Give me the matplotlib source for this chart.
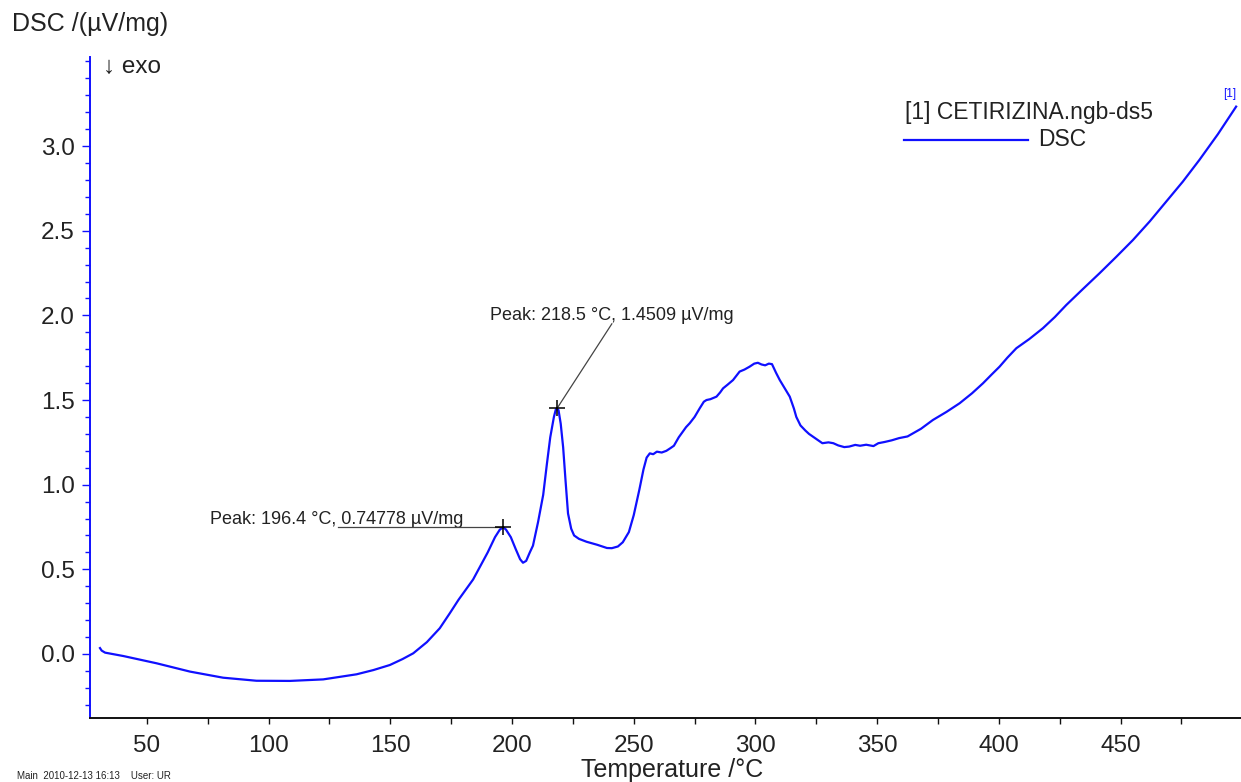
import matplotlib
matplotlib.use("Agg")
import matplotlib.pyplot as plt
from matplotlib.lines import Line2D
from matplotlib.ticker import MultipleLocator

plt.rcParams['font.family'] = ['Liberation Sans', 'DejaVu Sans']

# DSC trace of the cetirizine sample (temperature in °C, signal in µV/mg)
temperature = [
    30.7, 31.4, 32.8, 40.3, 54.0, 67.7, 81.3, 95.0, 108.7, 122.4, 136.1, 143.0,
    149.8, 155.0, 159.4, 165.0, 170.3, 174.4, 178.0, 181.0, 184.0, 187.0, 190.0,
    193.0, 195.0, 196.4, 197.5, 199.5, 201.5, 203.3, 204.5, 205.8, 207.3, 208.6,
    210.7, 212.8, 214.3, 215.7, 217.2, 218.0, 218.5, 219.1, 220.0, 221.0, 222.0,
    223.0, 224.3, 225.5, 227.5, 230.6, 235.0, 239.0, 241.0, 243.5, 245.5, 248.0,
    250.0, 252.3, 254.0, 255.3, 256.6, 258.0, 259.5, 261.5, 263.4, 265.0, 266.5,
    268.5, 270.0, 271.5, 273.0, 275.0, 277.1, 278.8, 279.9, 281.5, 284.0, 285.5,
    286.7, 288.5, 290.8, 292.0, 293.5, 295.5, 297.6, 299.5, 301.0, 302.5, 304.0,
    305.5, 306.8, 308.5, 310.0, 312.0, 314.1, 315.8, 316.8, 318.5, 320.5, 322.0,
    324.0, 326.0, 327.5, 330.0, 332.0, 334.0, 336.5, 338.5, 341.0, 343.0, 345.5,
    348.5, 350.5, 353.0, 356.0, 359.0, 362.5, 368.0, 372.9, 378.5, 383.9, 389.0,
    393.5, 397.0, 400.3, 403.5, 407.2, 412.5, 418.1, 423.0, 427.7, 434.5, 441.4,
    448.2, 455.1, 462.0, 468.8, 475.6, 482.4, 490.0, 497.5,
]
dsc_signal = [
    0.035, 0.020, 0.008, -0.012, -0.055, -0.104, -0.140, -0.158, -0.159, -0.150,
    -0.120, -0.095, -0.065, -0.030, 0.004, 0.070, 0.152, 0.240, 0.320, 0.380,
    0.440, 0.520, 0.600, 0.690, 0.735, 0.748, 0.735, 0.690, 0.620, 0.560, 0.539,
    0.550, 0.600, 0.640, 0.780, 0.940, 1.120, 1.280, 1.400, 1.445, 1.451, 1.440,
    1.360, 1.220, 1.020, 0.830, 0.740, 0.700, 0.680, 0.663, 0.645, 0.626, 0.625,
    0.635, 0.660, 0.720, 0.820, 0.970, 1.090, 1.160, 1.185, 1.180, 1.195, 1.190,
    1.200, 1.215, 1.230, 1.280, 1.310, 1.340, 1.363, 1.400, 1.451, 1.490, 1.500,
    1.505, 1.520, 1.545, 1.569, 1.590, 1.618, 1.640, 1.668, 1.680, 1.697, 1.715,
    1.720, 1.710, 1.705, 1.715, 1.712, 1.660, 1.618, 1.570, 1.520, 1.450, 1.400,
    1.350, 1.320, 1.300, 1.280, 1.260, 1.245, 1.250, 1.245, 1.232, 1.222, 1.225,
    1.235, 1.230, 1.236, 1.228, 1.245, 1.252, 1.262, 1.275, 1.285, 1.330, 1.382,
    1.430, 1.481, 1.540, 1.599, 1.650, 1.697, 1.750, 1.806, 1.860, 1.924, 1.990,
    2.061, 2.155, 2.249, 2.345, 2.445, 2.555, 2.672, 2.790, 2.918, 3.070, 3.233,
]

# Evaluated peaks: (temperature, signal)
peak_temps = [196.4, 218.5]
peak_values = [0.74778, 1.4509]

x_ticks = [50, 100, 150, 200, 250, 300, 350, 400, 450]
y_ticks = [0.0, 0.5, 1.0, 1.5, 2.0, 2.5, 3.0]

BLUE = '#1010ff'
TXT = '#222222'

fig = plt.figure(figsize=(12.41, 7.82), dpi=100)
ax = fig.add_axes([90 / 1241, 1 - 718 / 782, 1 - 90 / 1241, (718 - 57) / 782])

ax.plot(temperature, dsc_signal, color=BLUE, lw=1.6, solid_joinstyle='round')

ax.set_xlim(26.6, 499.5)
ax.set_ylim(-0.378, 3.526)

for s in ('top', 'right'):
    ax.spines[s].set_visible(False)
ax.spines['left'].set_color(BLUE)
ax.spines['left'].set_linewidth(1.4)
ax.spines['bottom'].set_color('#111111')
ax.spines['bottom'].set_linewidth(1.4)

ax.set_xticks(x_ticks)
ax.set_xticklabels([str(v) for v in x_ticks])
ax.xaxis.set_minor_locator(MultipleLocator(25))
ax.set_yticks(y_ticks)
ax.set_yticklabels([f"{v:.1f}" for v in y_ticks])
ax.yaxis.set_minor_locator(MultipleLocator(0.1))

ax.tick_params(axis='x', which='both', direction='out', length=4, width=1,
               color='#111111', labelsize=17.5, labelcolor=TXT, pad=8.5)
ax.tick_params(axis='y', which='major', direction='out', length=6, width=1,
               color=BLUE, labelsize=17.5, labelcolor=TXT, pad=5)
ax.tick_params(axis='y', which='minor', direction='out', length=3.5, width=1,
               color=BLUE)

# Peak markers and their labels
ax.plot(peak_temps, peak_values, linestyle='none', marker='+', color='black',
        markersize=11, mew=1.1, zorder=5)

t1, v1 = peak_temps[0], peak_values[0]
ax.plot([128.4, t1], [v1, v1], color='#444444', lw=0.9, zorder=4)
ax.text(75.9, v1 + 0.018, f"Peak: {t1} °C, {v1} µV/mg", fontsize=13,
        color=TXT, ha='left', va='baseline')

t2, v2 = peak_temps[1], peak_values[1]
ax.plot([t2, 241.0], [v2, 1.95], color='#444444', lw=0.9, zorder=4)
ax.text(190.9, 1.975, f"Peak: {t2} °C, {v2} µV/mg", fontsize=13,
        color=TXT, ha='left', va='baseline')

ax.text(497.5, 3.27, "[1]", fontsize=8.5, color=BLUE, ha='right', va='bottom')

# Axis titles placed like the instrument software does
fig.text(12 / 1241, 1 - 24 / 782, "DSC /(µV/mg)", fontsize=18, color=TXT,
         ha='left', va='center')
fig.text(103 / 1241, 1 - 67 / 782, "↓ exo", fontsize=17.5, color=TXT,
         ha='left', va='center')
fig.text(672 / 1241, 1 - 770 / 782, "Temperature /°C", fontsize=18,
         color=TXT, ha='center', va='center')

# Curve legend
fig.text(905 / 1241, 1 - 112 / 782, "[1] CETIRIZINA.ngb-ds5", fontsize=16.5,
         color=TXT, ha='left', va='center')
fig.add_artist(Line2D([904 / 1241, 1028 / 1241], [1 - 140 / 782, 1 - 140 / 782],
                      color=BLUE, lw=1.6, transform=fig.transFigure))
fig.text(1038 / 1241, 1 - 140 / 782, "DSC", fontsize=16.5, color=TXT,
         ha='left', va='center')

# Footer line at the bottom edge
fig.text(17 / 1241, 1 / 782, "Main  2010-12-13 16:13    User: UR",
         fontsize=7, color=TXT, ha='left', va='bottom')

fig.savefig("out.png", dpi=100)
